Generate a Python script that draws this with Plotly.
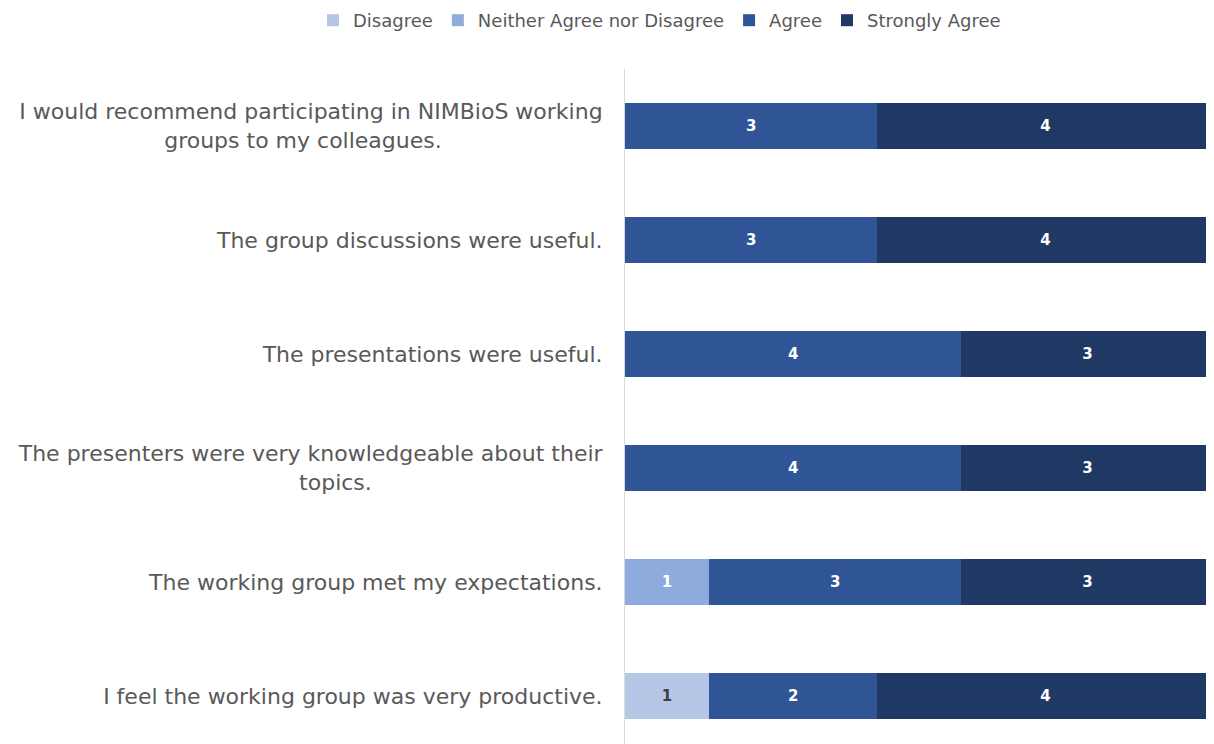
import plotly.graph_objects as go

NB = "\u00a0"
statements = [
    "I would recommend participating in NIMBioS working<br>groups to my colleagues." + NB * 23,
    "The group discussions were useful.",
    "The presentations were useful.",
    "The presenters were very knowledgeable about their<br>topics." + NB * 33,
    "The working group met my expectations.",
    "I feel the working group was very productive.",
]
series_names = ["Disagree", "Neither Agree nor Disagree", "Agree", "Strongly Agree"]
disagree = [0, 0, 0, 0, 0, 1]
neither = [0, 0, 0, 0, 1, 0]
agree = [3, 3, 4, 4, 3, 2]
strongly_agree = [4, 4, 3, 3, 3, 4]

colors = ["#b4c7e7", "#8faadc", "#2f5597", "#203864"]
text_colors = ["#404040", "#ffffff", "#ffffff", "#ffffff"]

fig = go.Figure()
for name, vals, c, tc in zip(series_names, [disagree, neither, agree, strongly_agree], colors, text_colors):
    fig.add_trace(go.Bar(
        y=list(range(len(statements))), x=vals, name=name, orientation="h",
        marker=dict(color=c, line=dict(width=0)),
        text=[str(v) if v else "" for v in vals], textposition="inside",
        insidetextanchor="middle",
        textfont=dict(color=tc, size=15, family="DejaVu Sans", weight="bold"),
        width=0.4,
    ))

W = 1198
H = 736
T = 61
L = 617
plot_h = H - T
plot_w = W - L
fig.update_layout(
    barmode="stack",
    width=W, height=H,
    margin=dict(l=L, r=0, t=T, b=0, autoexpand=False),
    plot_bgcolor="white", paper_bgcolor="white",
    font=dict(family="DejaVu Sans", color="#595959"),
    legend=dict(orientation="h", xref="paper", x=-312 / plot_w, xanchor="left",
                yref="paper", y=1 + (T + 6) / plot_h, yanchor="top",
                font=dict(size=18, color="#595959"), traceorder="normal",
                itemwidth=30, tracegroupgap=0),
    xaxis=dict(range=[0, plot_w / 84.1], showticklabels=False, showgrid=False,
               zeroline=False, showline=False, automargin=False),
    yaxis=dict(range=[-0.5 + plot_h / 114, -0.5], tickvals=list(range(len(statements))),
               ticktext=statements, showgrid=False, zeroline=False,
               showline=True, linecolor="#d9d9d9", linewidth=1,
               ticks="", ticklabelstandoff=17, automargin=False,
               tickfont=dict(size=22, color="#595959")),
)

fig.write_html("out.html")
